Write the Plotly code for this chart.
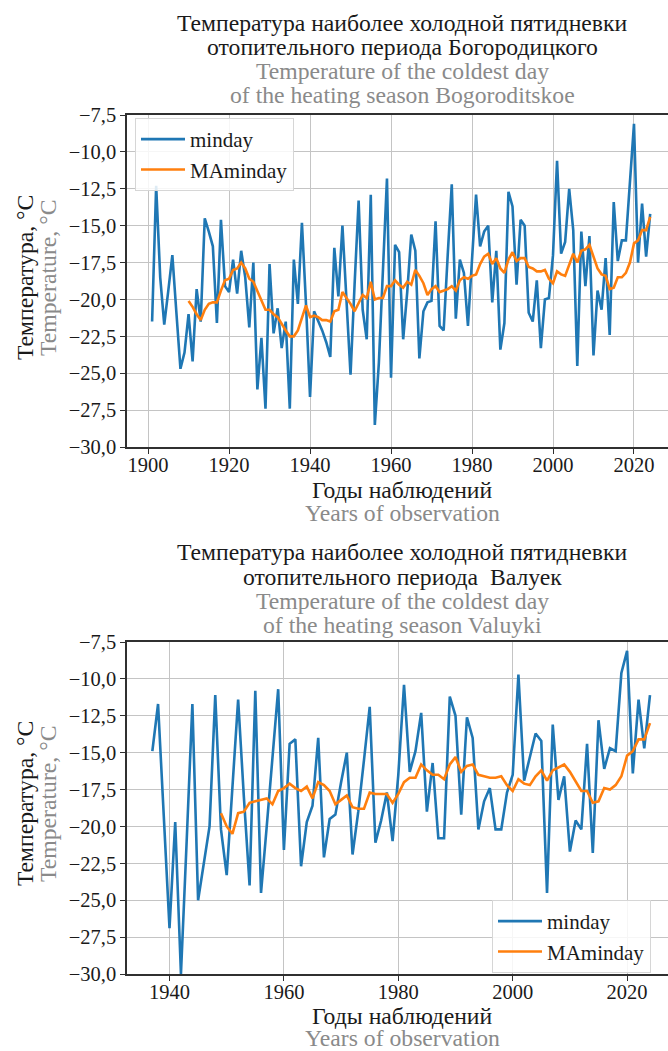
import plotly.graph_objects as go

# ---------------- data ----------------
bog_start = 1901
bog_minday = [
    -21.5, -12.3, -18.5, -21.7, -19.4, -17.0, -20.9, -24.7, -23.6, -21.0,   # 1901-1910
    -24.2, -19.3, -21.5, -14.5, -15.4, -16.4, -21.6, -14.6, -19.1, -19.5,   # 1911-1920
    -17.3, -19.6, -16.7, -18.5, -21.9, -17.5, -26.1, -22.6, -27.4, -17.6,   # 1921-1930
    -22.3, -20.6, -23.3, -21.5, -27.4, -17.3, -20.3, -14.8, -20.3, -26.6,   # 1931-1940
    -20.8, -21.4, -22.1, -22.9, -23.9, -16.5, -19.8, -15.0, -20.0, -25.1,   # 1941-1950
    -19.0, -13.3, -20.7, -22.7, -12.9, -28.5, -24.3, -17.8, -11.8, -25.3,   # 1951-1960
    -16.3, -16.8, -22.7, -19.5, -15.6, -16.7, -24.0, -20.8, -20.2, -20.1,   # 1961-1970
    -14.7, -21.8, -22.1, -17.0, -12.2, -21.3, -17.3, -18.2, -21.8, -17.3,   # 1971-1980
    -12.9, -16.4, -15.4, -15.0, -20.2, -16.7, -23.4, -21.6, -12.7, -13.7,   # 1981-1990
    -19.0, -14.6, -15.0, -20.9, -21.5, -18.7, -23.3, -20.0, -19.9, -17.0,   # 1991-2000
    -10.6, -16.9, -16.1, -12.5, -15.3, -24.5, -15.4, -19.1, -15.7, -23.8,   # 2001-2010
    -19.4, -20.7, -17.2, -22.4, -13.4, -17.4, -16.0, -16.0, -12.0, -8.1,    # 2011-2020
    -17.5, -13.5, -17.1, -14.2,                                             # 2021-2024
]
bog_ma_start = 1910
bog_maminday = [
    -20.1,                                                                  # 1910
    -20.5, -21.0, -21.4, -20.7, -20.3, -20.2, -20.2, -19.4, -18.7, -18.6,   # 1911-1920
    -18.0, -17.9, -17.5, -17.9, -18.6, -18.8, -19.4, -20.0, -20.7, -20.7,   # 1921-1930
    -21.0, -21.2, -21.7, -22.1, -22.5, -22.5, -22.1, -21.2, -20.4, -21.2,   # 1931-1940
    -21.1, -21.2, -21.4, -21.4, -21.5, -20.8, -20.7, -19.5, -19.9, -20.3,   # 1941-1950
    -20.8, -20.2, -19.7, -19.9, -18.8, -20.0, -19.9, -19.9, -19.1, -19.1,   # 1951-1960
    -18.7, -19.0, -19.2, -18.8, -19.0, -18.0, -18.4, -18.9, -19.7, -19.3,   # 1961-1970
    -19.1, -19.5, -19.4, -19.3, -19.1, -19.4, -18.7, -18.5, -18.6, -18.4,   # 1971-1980
    -18.3, -17.6, -17.1, -16.9, -17.6, -17.2, -17.9, -18.2, -17.3, -16.8,   # 1981-1990
    -17.4, -17.2, -17.2, -17.8, -17.9, -18.1, -18.1, -18.0, -18.6, -18.9,   # 1991-2000
    -18.1, -18.3, -18.4, -17.6, -16.9, -17.5, -16.7, -16.6, -16.3, -17.1,   # 2001-2010
    -17.9, -18.3, -18.4, -19.3, -19.2, -18.5, -18.5, -18.2, -17.5, -16.2,   # 2011-2020
    -16.0, -15.3, -15.3, -14.4,                                             # 2021-2024
]

val_start = 1937
val_minday = [
    -14.9, -11.7, -19.3, -26.9,                                             # 1937-1940
    -19.7, -30.0, -21.0, -11.7, -25.0, -22.5, -20.0, -11.1, -20.2, -23.3,   # 1941-1950
    -17.5, -11.4, -18.0, -24.0, -10.8, -24.5, -20.0, -15.5, -10.7, -21.6,   # 1951-1960
    -14.4, -14.1, -22.7, -19.7, -18.6, -14.0, -22.1, -19.5, -19.2, -17.0,   # 1961-1970
    -15.0, -21.9, -19.0, -15.5, -11.9, -21.1, -19.6, -17.7, -21.0, -16.5,   # 1971-1980
    -10.4, -16.3, -14.9, -12.3, -19.0, -15.7, -20.8, -20.8, -11.2, -12.5,   # 1981-1990
    -19.2, -12.6, -14.0, -20.2, -18.3, -17.4, -20.2, -20.2, -17.7, -16.5,   # 1991-2000
    -9.7, -16.9, -15.3, -13.7, -14.2, -24.5, -13.1, -18.2, -16.6, -21.7,    # 2001-2010
    -19.6, -20.2, -14.4, -21.8, -12.8, -16.1, -14.7, -14.9, -9.6, -8.1,     # 2011-2020
    -16.4, -11.4, -14.7, -11.1,                                             # 2021-2024
]
val_ma_start = 1949
val_maminday = [
    -19.1, -20.0,                                                           # 1949-1950
    -20.5, -19.1, -19.0, -18.4, -18.3, -18.2, -18.1, -18.5, -17.6, -17.4,   # 1951-1960
    -17.1, -17.4, -17.6, -17.3, -18.1, -17.0, -17.2, -17.6, -18.5, -18.2,   # 1961-1970
    -17.9, -18.7, -18.8, -18.8, -17.7, -17.8, -17.8, -17.8, -18.4, -17.8,   # 1971-1980
    -17.0, -16.7, -16.7, -15.8, -16.2, -16.5, -16.5, -16.8, -15.8, -15.3,   # 1981-1990
    -16.3, -15.9, -15.8, -16.5, -16.6, -16.7, -16.7, -16.6, -17.2, -17.6,   # 1991-2000
    -16.8, -17.1, -17.2, -16.6, -16.2, -16.9, -16.2, -16.0, -15.8, -16.3,   # 2001-2010
    -17.0, -17.6, -17.6, -18.4, -18.3, -17.4, -17.5, -17.2, -16.6, -15.2,   # 2011-2020
    -14.9, -14.1, -14.1, -13.0,                                             # 2021-2024
]

bog_years = list(range(bog_start, bog_start + len(bog_minday)))
bog_ma_years = list(range(bog_ma_start, bog_ma_start + len(bog_maminday)))
val_years = list(range(val_start, val_start + len(val_minday)))
val_ma_years = list(range(val_ma_start, val_ma_start + len(val_maminday)))

y_ticks = [-30.0, -27.5, -25.0, -22.5, -20.0, -17.5, -15.0, -12.5, -10.0, -7.5]
x_ticks_top = [1900, 1920, 1940, 1960, 1980, 2000, 2020]
x_ticks_bot = [1940, 1960, 1980, 2000, 2020]

title_ru_1 = "Температура наиболее холодной пятидневки"
title_ru_2_top = "отопительного периода Богородицкого"
title_ru_2_bot = "отопительного периода\u00a0 Валуек"
title_en_1 = "Temperature of the coldest day"
title_en_2_top = "of the heating season Bogoroditskoe"
title_en_2_bot = "of the heating season Valuyki"
xlabel_ru = "Годы наблюдений"
xlabel_en = "Years of observation"
ylabel_ru = "Температура, °C"
ylabel_en = "Temperature, °C"

# ---------------- styling ----------------
W, H = 668, 1051
FONT = "Liberation Serif, Times New Roman, serif"
FS_TICK = 20.5
FS_LAB = 23.7
BLACK = "#1a1a1a"
GRAY = "#8a8a8a"
BLUE = "#1f77b4"
ORANGE = "#ff7f0e"
GRID = "#c4c4c4"
SPINE = "#303030"


def px(x):
    return x / W


def py(y):
    return 1 - y / H


fig = go.Figure()
fig.add_trace(go.Scatter(x=bog_years, y=bog_minday, mode="lines", name="minday",
                         line=dict(color=BLUE, width=2.6), xaxis="x", yaxis="y",
                         legend="legend"))
fig.add_trace(go.Scatter(x=bog_ma_years, y=bog_maminday, mode="lines", name="MAminday",
                         line=dict(color=ORANGE, width=2.6), xaxis="x", yaxis="y",
                         legend="legend"))
fig.add_trace(go.Scatter(x=val_years, y=val_minday, mode="lines", name="minday",
                         line=dict(color=BLUE, width=2.6), xaxis="x2", yaxis="y2",
                         legend="legend2"))
fig.add_trace(go.Scatter(x=val_ma_years, y=val_maminday, mode="lines", name="MAminday",
                         line=dict(color=ORANGE, width=2.6), xaxis="x2", yaxis="y2",
                         legend="legend2"))

axis_common = dict(
    showgrid=True, gridcolor=GRID, gridwidth=1.4,
    showline=True, linecolor=SPINE, linewidth=1.5,
    ticks="outside", ticklen=5, tickwidth=1.3, tickcolor=SPINE,
    tickfont=dict(family=FONT, size=FS_TICK, color=BLACK),
    zeroline=False, automargin=False,
)

xdom = [px(127), 1.0]
fig.update_layout(
    width=W, height=H,
    margin=dict(l=0, r=0, t=0, b=0, pad=0, autoexpand=False),
    paper_bgcolor="white", plot_bgcolor="white",
    separators=", ",
    font=dict(family=FONT, size=FS_TICK, color=BLACK),
    xaxis=dict(domain=xdom, range=[1894.8, 2028.4], anchor="y",
               tickmode="array", tickvals=x_ticks_top, mirror=True,
               ticklabelstandoff=-6, **axis_common),
    yaxis=dict(domain=[py(447), py(115)], range=[-30, -7.5], anchor="x",
               tickmode="array", tickvals=y_ticks, tickformat=".1f", **axis_common),
    xaxis2=dict(domain=xdom, range=[1932.57, 2027.15], anchor="y2",
                tickmode="array", tickvals=x_ticks_bot, mirror=True,
                ticklabelstandoff=-6, **axis_common),
    yaxis2=dict(domain=[py(974), py(642)], range=[-30, -7.5], anchor="x2",
                tickmode="array", tickvals=y_ticks, tickformat=".1f", **axis_common),
    legend=dict(x=px(135), y=py(118), xanchor="left", yanchor="top",
                bgcolor="rgba(255,255,255,0.85)", bordercolor="#d6d6d6", borderwidth=1,
                font=dict(family=FONT, size=21, color=BLACK), itemwidth=44,
                tracegroupgap=0),
    legend2=dict(x=px(492), y=py(900), xanchor="left", yanchor="top",
                 bgcolor="rgba(255,255,255,0.85)", bordercolor="#d6d6d6", borderwidth=1,
                 font=dict(family=FONT, size=21, color=BLACK), itemwidth=44,
                 tracegroupgap=0),
    showlegend=True,
)

anns = []


def add_text(text, xpx, ypx, color, angle=0, size=FS_LAB):
    anns.append(dict(text=text, x=px(xpx), y=py(ypx), xref="paper", yref="paper",
                     xanchor="center", yanchor="middle", showarrow=False,
                     textangle=angle, font=dict(family=FONT, size=size, color=color)))


CX = 402
# top chart titles
add_text(title_ru_1, CX, 23, BLACK)
add_text(title_ru_2_top, CX, 47, BLACK)
add_text(title_en_1, CX, 71, GRAY)
add_text(title_en_2_top, CX, 95, GRAY)
add_text(xlabel_ru, CX, 490, BLACK)
add_text(xlabel_en, CX, 513, GRAY)
add_text(ylabel_ru, 25, 278, BLACK, -90)
add_text(ylabel_en, 48, 278, GRAY, -90)
# bottom chart titles
add_text(title_ru_1, CX, 552, BLACK)
add_text(title_ru_2_bot, CX, 577, BLACK)
add_text(title_en_1, CX, 601, GRAY)
add_text(title_en_2_bot, CX, 625, GRAY)
add_text(xlabel_ru, CX, 1016, BLACK)
add_text(xlabel_en, CX, 1038, GRAY)
add_text(ylabel_ru, 25, 804, BLACK, -90)
add_text(ylabel_en, 48, 804, GRAY, -90)

fig.update_layout(annotations=anns)
fig.write_html("out.html",
               config={"displayModeBar": False},
               post_script="document.body.style.margin='0px';"
                           "document.body.style.padding='0px';"
                           "document.documentElement.style.overflow='hidden';")
